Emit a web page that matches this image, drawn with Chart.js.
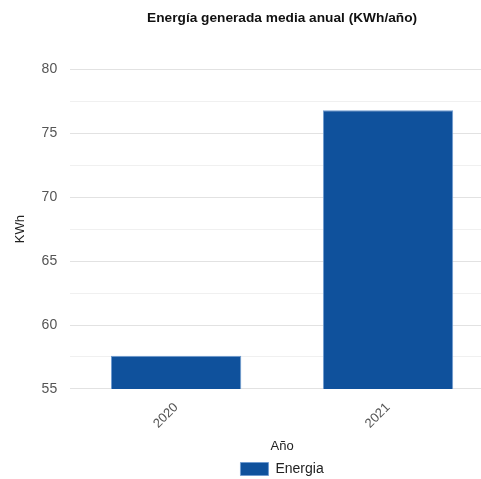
<!DOCTYPE html>
<html>
<head>
<meta charset="utf-8">
<script src="https://cdn.jsdelivr.net/npm/chart.js@4"></script>
<style>
  html, body { margin: 0; padding: 0; background: #fff; overflow: hidden; }
  #wrap { width: 481px; height: 479px; overflow: hidden; }
</style>
</head>
<body>
<div id="wrap"><canvas id="chart" width="495" height="479"></canvas></div>
<script>
const years = ['2020', '2021'];
const energia = [57.6, 76.8];
const yTicks = [55, 60, 65, 70, 75, 80];

const ctx = document.getElementById('chart');
const font = 'Liberation Sans, Arial, sans-serif';

new Chart(ctx, {
  type: 'bar',
  data: {
    labels: years,
    datasets: [{
      label: 'Energia',
      data: energia,
      backgroundColor: '#0f519c',
      borderColor: '#6f9bd0',
      borderWidth: 1,
      categoryPercentage: 0.615,
      barPercentage: 1
    }]
  },
  options: {
    responsive: false,
    animation: false,
    layout: { padding: { left: 6, right: 1, top: 0, bottom: -7 } },
    plugins: {
      title: {
        display: true,
        fullSize: false,
        text: 'Energía generada media anual (KWh/año)',
        color: '#111',
        font: { family: font, size: 13.7, weight: 'bold' },
        padding: { top: 10, bottom: 43 }
      },
      legend: {
        position: 'bottom',
        fullSize: false,
        labels: {
          color: '#222',
          boxWidth: 28,
          boxHeight: 13,
          padding: 4,
          font: { family: font, size: 14 }
        }
      },
      tooltip: { enabled: false }
    },
    scales: {
      x: {
        grid: { display: false },
        border: { display: false },
        ticks: {
          color: '#555',
          minRotation: 45,
          maxRotation: 45,
          font: { family: font, size: 13 }
        },
        title: {
          display: true,
          text: 'Año',
          color: '#222',
          font: { family: font, size: 13 }
        }
      },
      y: {
        min: yTicks[0],
        max: yTicks[yTicks.length - 1],
        border: { display: false },
        grid: {
          drawTicks: false,
          color: c => yTicks.includes(c.tick && c.tick.value) ? '#e2e2e2' : '#f0f0f0'
        },
        ticks: {
          stepSize: 2.5,
          padding: 13,
          color: '#555',
          font: { family: font, size: 14 },
          callback: v => yTicks.includes(v) ? v : ''
        },
        title: {
          display: true,
          text: 'KWh',
          color: '#222',
          font: { family: font, size: 13 },
          padding: { top: 7, bottom: 0 }
        }
      }
    }
  }
});
</script>
</body>
</html>
